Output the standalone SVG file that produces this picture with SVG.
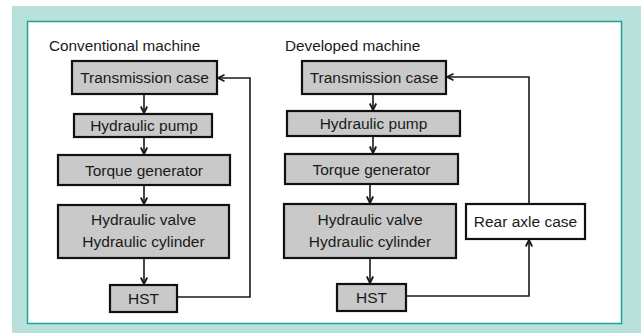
<svg xmlns="http://www.w3.org/2000/svg" width="641" height="333" viewBox="0 0 641 333">
<style>
.box{fill:#c9c9c9;stroke:#111;stroke-width:2.2}
.wbox{fill:#fff;stroke:#111;stroke-width:2.2}
.t{font-family:"Liberation Sans",Arial,sans-serif;font-size:15.5px;fill:#1a1a1a;text-anchor:middle}
.title{font-family:"Liberation Sans",Arial,sans-serif;font-size:15.3px;fill:#1a1a1a}
.c{fill:none;stroke:#1a1a1a;stroke-width:1.6;marker-end:url(#ah)}
</style>
<defs>
<marker id="ah" viewBox="0 0 8 8" refX="7.5" refY="4" markerWidth="8" markerHeight="8" markerUnits="userSpaceOnUse" orient="auto">
<path d="M1,0.8 L7.5,4 L1,7.2" fill="none" stroke="#1a1a1a" stroke-width="1.8"/>
</marker>
</defs>
<rect x="0" y="0" width="641" height="333" fill="#fff"/>
<rect x="12" y="6" width="629" height="327" fill="#b9e1dc"/>
<rect x="27.5" y="21.5" width="594" height="302" fill="#fff" stroke="#1fa594" stroke-width="1.5"/>
<text class="title" x="49" y="51">Conventional machine</text>
<text class="title" x="285" y="51">Developed machine</text>
<g id="connectors">
<path class="c" d="M144,94 V113"/>
<path class="c" d="M144,137 V154"/>
<path class="c" d="M144,185 V204"/>
<path class="c" d="M144,258 V284"/>
<path class="c" d="M177,297 H250 V78 H218"/>
<path class="c" d="M373,94 V110"/>
<path class="c" d="M373,136 V153"/>
<path class="c" d="M370,184 V203"/>
<path class="c" d="M370,258 V283"/>
<path class="c" d="M406,296 H529 V240"/>
<path class="c" d="M529,204 V77 H447"/>
</g>
<g id="c-tc"><rect class="box" x="72" y="61" width="145" height="33"/><text class="t" x="144.5" y="83">Transmission case</text></g>
<g id="c-pump"><rect class="box" x="74" y="114" width="138" height="23"/><text class="t" x="144" y="131">Hydraulic pump</text></g>
<g id="c-torque"><rect class="box" x="58" y="155" width="172" height="30"/><text class="t" x="144" y="175.5">Torque generator</text></g>
<g id="c-valve"><rect class="box" x="58" y="205" width="171" height="53"/><text class="t" x="143.5" y="225">Hydraulic valve</text><text class="t" x="143.5" y="247">Hydraulic cylinder</text></g>
<g id="c-hst"><rect class="box" x="110" y="285" width="67" height="27"/><text class="t" x="143.5" y="304">HST</text></g>
<g id="d-tc"><rect class="box" x="302" y="61" width="144" height="33"/><text class="t" x="374" y="83">Transmission case</text></g>
<g id="d-pump"><rect class="box" x="287" y="111" width="173" height="25"/><text class="t" x="373.5" y="129">Hydraulic pump</text></g>
<g id="d-torque"><rect class="box" x="285" y="154" width="173" height="30"/><text class="t" x="371.5" y="174.5">Torque generator</text></g>
<g id="d-valve"><rect class="box" x="284" y="204" width="172" height="54"/><text class="t" x="370" y="225">Hydraulic valve</text><text class="t" x="370" y="247">Hydraulic cylinder</text></g>
<g id="d-hst"><rect class="box" x="337" y="284" width="69" height="27"/><text class="t" x="371.5" y="303">HST</text></g>
<g id="d-rear"><rect class="wbox" x="466" y="204" width="119" height="35"/><text class="t" x="525.5" y="226.5">Rear axle case</text></g>
</svg>
